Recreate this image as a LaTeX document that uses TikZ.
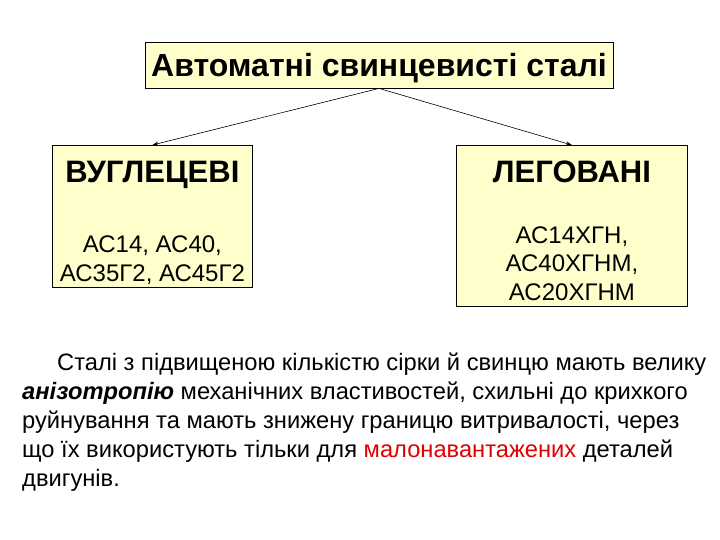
\documentclass[tikz,border=0pt]{standalone}
\usepackage{fontspec}
\setmainfont{Liberation Sans}
\newcommand\nazva{\fontsize{31bp}{31bp}\selectfont\bfseries}
\usetikzlibrary{arrows.meta}
\definecolor{zhovtyi}{HTML}{FFFFCC}
\definecolor{chervonyi}{HTML}{E00000}

\begin{document}
\begin{tikzpicture}[x=1bp,y=-1bp,
      ramka/.style={draw,fill=zhovtyi,line width=0.8bp,align=center,inner sep=0pt},
      zagolovok/.style={ramka,minimum width=468bp,minimum height=46bp,
        font=\fontsize{32bp}{36bp}\selectfont\bfseries},
      hrupa/.style={ramka,anchor=north west,font=\fontsize{24bp}{29bp}\selectfont},
      strilka/.style={-{Stealth[length=6bp,width=4bp]},line width=0.6bp}]

    \useasboundingbox (0,0) rectangle (720,540);

    % --- Verkh: nazva hrupy stalei -------------------------------------------
    \node[zagolovok] (stali) at (379,65)
      {\rule{0pt}{30bp}Автоматні свинцевисті сталі};

    % --- Dva klasy: vuhletsevi ta lehovani -----------------------------------
    \node[hrupa,minimum width=200bp,minimum height=142bp] (vuhletsevi) at (52,145)
      {{\nazva\rule{0pt}{34bp}ВУГЛЕЦЕВІ}\\[41bp]
       АС14, АС40,\\АС35Г2, АС45Г2};
    \node[hrupa,minimum width=231bp,minimum height=161bp,
          font=\fontsize{24bp}{28.5bp}\selectfont] (lehovani) at (456,145)
      {{\nazva\rule{0pt}{31bp}ЛЕГОВАНІ}\\[32.5bp]
       АС14ХГН,\\АС40ХГНМ,\\АС20ХГНМ};

    % --- Tekst pid skhemoiu --------------------------------------------------
    \node[anchor=north west,align=left,inner sep=0pt,
          font=\fontsize{23.7bp}{29bp}\selectfont] (tekst) at (22,353)
      {\hspace*{35bp}Сталі з підвищеною кількістю сірки й свинцю мають велику\\
       \textbf{\textit{анізотропію}} механічних властивостей, схильні до крихкого\\
       руйнування та мають знижену границю витривалості, через\\
       що їх використують тільки для \textcolor{chervonyi}{малонавантажених} деталей\\
       двигунів.};

    % --- Strilky ---------------------------------------------------------------
    \draw[strilka] (stali.south) -- (vuhletsevi.north);
    \draw[strilka] (stali.south) -- (lehovani.north);
  \end{tikzpicture}
\end{document}
